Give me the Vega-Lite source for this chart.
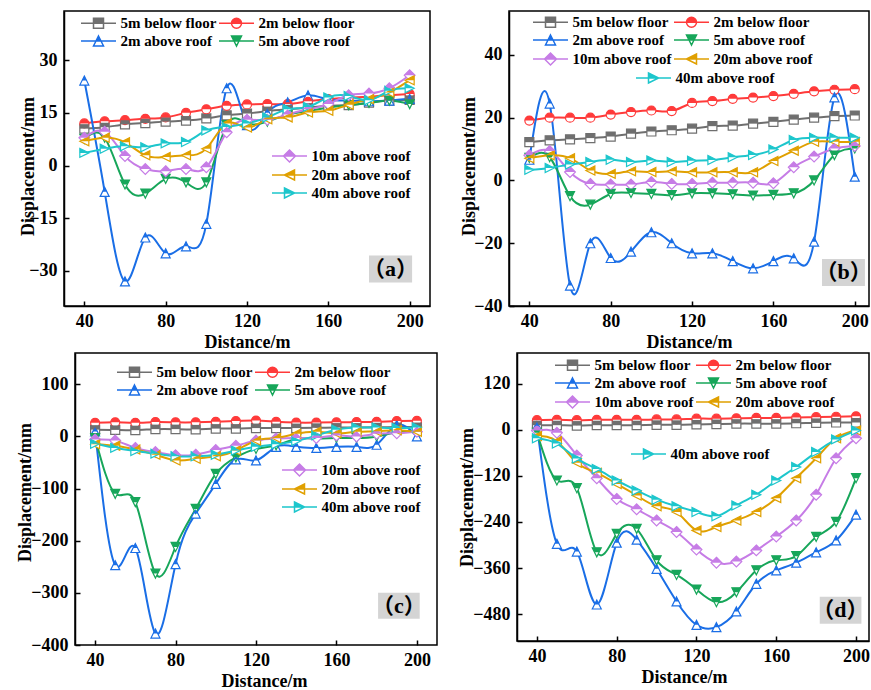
{
"$schema":"https://vega.github.io/schema/vega-lite/v6.json",
"padding":{"left":16,"top":10,"right":0,"bottom":0},
"params":[
{"name":"NM","value":["5m below floor","2m below floor","2m above roof","5m above roof","10m above roof","20m above roof","40m above roof"]},
{"name":"CL","value":["#6f6f6f","#ff3a3a","#1a6ee6","#17a65a","#c67ce6","#e0a000","#1dc6cc"]},
{"name":"LS","value":["M-3.5,0H3.5M-1,-1H1V0H-1ZM-1,0V1H1V0V1H-1V0","M-3.5,0H3.5M-1,0A1,1,0,0,1,1,0ZM-1,0A1,1,0,0,0,1,0A1,1,0,0,1,-1,0","M-3.5,0H3.5M0,-1L0.5,0H-0.5ZM0.5,0L1,1H-1L-0.5,0L-1,1H1L0.5,0","M-3.5,0H3.5M-1,-1H1L0.5,0H-0.5ZM0.5,0L0,1L-0.5,0L0,1L0.5,0","M-3.5,0H3.5M-1.2,0L0,-1.2L1.2,0ZM-1.2,0L0,1.2L1.2,0L0,1.2L-1.2,0","M-3.5,0H3.5M-1,0L1,-1V0ZM-1,0L1,1V0V1L-1,0","M-3.5,0H3.5M1,0L-1,-1V0ZM1,0L-1,1V0V1L1,0"]}
],
"data":{"values":[
{"p":"a","d":40,"5m below floor":10.5,"2m below floor":12.0,"2m above roof":24.2,"5m above roof":7.6,"10m above roof":7.9,"20m above roof":6.9,"40m above roof":3.6},
{"p":"a","d":50,"5m below floor":10.9,"2m below floor":12.6,"2m above roof":-7.5,"5m above roof":7.9,"10m above roof":9.6,"20m above roof":7.9,"40m above roof":4.8},
{"p":"a","d":60,"5m below floor":11.7,"2m below floor":12.9,"2m above roof":-33.0,"5m above roof":-5.4,"10m above roof":2.7,"20m above roof":6.6,"40m above roof":5.5},
{"p":"a","d":70,"5m below floor":12.1,"2m below floor":13.3,"2m above roof":-20.5,"5m above roof":-8.0,"10m above roof":-1.0,"20m above roof":2.9,"40m above roof":5.2},
{"p":"a","d":80,"5m below floor":12.5,"2m below floor":13.7,"2m above roof":-25.0,"5m above roof":-3.8,"10m above roof":-1.6,"20m above roof":2.4,"40m above roof":6.3},
{"p":"a","d":90,"5m below floor":12.8,"2m below floor":15.0,"2m above roof":-23.0,"5m above roof":-4.8,"10m above roof":-1.0,"20m above roof":2.9,"40m above roof":6.7},
{"p":"a","d":100,"5m below floor":13.4,"2m below floor":16.0,"2m above roof":-16.6,"5m above roof":-4.8,"10m above roof":-0.5,"20m above roof":4.8,"40m above roof":10.0},
{"p":"a","d":110,"5m below floor":14.3,"2m below floor":17.0,"2m above roof":22.0,"5m above roof":11.5,"10m above roof":9.5,"20m above roof":12.0,"40m above roof":11.0},
{"p":"a","d":120,"5m below floor":14.8,"2m below floor":17.4,"2m above roof":11.5,"5m above roof":12.0,"10m above roof":13.0,"20m above roof":10.8,"40m above roof":12.0},
{"p":"a","d":130,"5m below floor":15.5,"2m below floor":17.5,"2m above roof":15.0,"5m above roof":12.5,"10m above roof":13.0,"20m above roof":13.2,"40m above roof":13.7},
{"p":"a","d":140,"5m below floor":16.0,"2m below floor":17.5,"2m above roof":18.0,"5m above roof":14.5,"10m above roof":14.5,"20m above roof":13.7,"40m above roof":16.0},
{"p":"a","d":150,"5m below floor":16.5,"2m below floor":18.3,"2m above roof":20.0,"5m above roof":15.5,"10m above roof":16.0,"20m above roof":15.1,"40m above roof":16.7},
{"p":"a","d":160,"5m below floor":17.0,"2m below floor":18.9,"2m above roof":18.8,"5m above roof":16.5,"10m above roof":17.5,"20m above roof":15.6,"40m above roof":19.4},
{"p":"a","d":170,"5m below floor":17.2,"2m below floor":19.3,"2m above roof":18.5,"5m above roof":17.2,"10m above roof":20.0,"20m above roof":17.3,"40m above roof":19.8},
{"p":"a","d":180,"5m below floor":17.9,"2m below floor":19.6,"2m above roof":18.3,"5m above roof":17.8,"10m above roof":20.5,"20m above roof":18.9,"40m above roof":18.6},
{"p":"a","d":190,"5m below floor":18.5,"2m below floor":20.0,"2m above roof":18.5,"5m above roof":18.5,"10m above roof":22.0,"20m above roof":20.8,"40m above roof":21.3},
{"p":"a","d":200,"5m below floor":18.7,"2m below floor":20.4,"2m above roof":19.0,"5m above roof":17.5,"10m above roof":25.7,"20m above roof":24.3,"40m above roof":22.0},
{"p":"b","d":40,"5m below floor":12.2,"2m below floor":19.1,"2m above roof":6.6,"5m above roof":7.2,"10m above roof":8.0,"20m above roof":7.1,"40m above roof":3.4},
{"p":"b","d":50,"5m below floor":12.8,"2m below floor":20.0,"2m above roof":24.5,"5m above roof":7.4,"10m above roof":9.4,"20m above roof":8.0,"40m above roof":4.0},
{"p":"b","d":60,"5m below floor":13.1,"2m below floor":20.0,"2m above roof":-33.5,"5m above roof":-5.0,"10m above roof":2.7,"20m above roof":7.1,"40m above roof":5.1},
{"p":"b","d":70,"5m below floor":13.5,"2m below floor":20.0,"2m above roof":-20.0,"5m above roof":-7.7,"10m above roof":-1.1,"20m above roof":3.2,"40m above roof":5.9},
{"p":"b","d":80,"5m below floor":14.0,"2m below floor":21.0,"2m above roof":-24.7,"5m above roof":-4.3,"10m above roof":-1.3,"20m above roof":2.1,"40m above roof":6.6},
{"p":"b","d":90,"5m below floor":14.9,"2m below floor":21.8,"2m above roof":-22.7,"5m above roof":-4.0,"10m above roof":-1.3,"20m above roof":2.9,"40m above roof":5.9},
{"p":"b","d":100,"5m below floor":15.6,"2m below floor":22.3,"2m above roof":-16.5,"5m above roof":-4.3,"10m above roof":-0.5,"20m above roof":2.7,"40m above roof":6.4},
{"p":"b","d":110,"5m below floor":16.0,"2m below floor":22.1,"2m above roof":-20.0,"5m above roof":-4.7,"10m above roof":-1.1,"20m above roof":2.9,"40m above roof":5.9},
{"p":"b","d":120,"5m below floor":16.5,"2m below floor":24.7,"2m above roof":-23.2,"5m above roof":-4.1,"10m above roof":-1.1,"20m above roof":2.6,"40m above roof":6.3},
{"p":"b","d":130,"5m below floor":17.3,"2m below floor":25.3,"2m above roof":-23.2,"5m above roof":-4.1,"10m above roof":-0.7,"20m above roof":2.6,"40m above roof":6.5},
{"p":"b","d":140,"5m below floor":17.5,"2m below floor":26.0,"2m above roof":-25.7,"5m above roof":-4.4,"10m above roof":-0.7,"20m above roof":2.6,"40m above roof":7.4},
{"p":"b","d":150,"5m below floor":18.1,"2m below floor":26.4,"2m above roof":-28.0,"5m above roof":-4.8,"10m above roof":-0.7,"20m above roof":2.6,"40m above roof":8.1},
{"p":"b","d":160,"5m below floor":18.7,"2m below floor":26.9,"2m above roof":-25.7,"5m above roof":-4.6,"10m above roof":-0.9,"20m above roof":6.2,"40m above roof":9.9},
{"p":"b","d":170,"5m below floor":19.4,"2m below floor":27.6,"2m above roof":-24.8,"5m above roof":-4.1,"10m above roof":4.2,"20m above roof":9.5,"40m above roof":12.9},
{"p":"b","d":180,"5m below floor":20.0,"2m below floor":28.4,"2m above roof":-19.5,"5m above roof":0.0,"10m above roof":7.6,"20m above roof":12.3,"40m above roof":13.6},
{"p":"b","d":190,"5m below floor":20.5,"2m below floor":28.9,"2m above roof":26.5,"5m above roof":8.1,"10m above roof":10.2,"20m above roof":12.3,"40m above roof":13.6},
{"p":"b","d":200,"5m below floor":20.7,"2m below floor":29.1,"2m above roof":1.2,"5m above roof":10.2,"10m above roof":11.0,"20m above roof":12.3,"40m above roof":13.6},
{"p":"c","d":40,"5m below floor":13,"2m below floor":26,"2m above roof":9.6,"5m above roof":-3,"10m above roof":-6,"20m above roof":-15,"40m above roof":-14},
{"p":"c","d":50,"5m below floor":12.5,"2m below floor":27,"2m above roof":-247,"5m above roof":-110,"10m above roof":-8,"20m above roof":-18,"40m above roof":-22},
{"p":"c","d":60,"5m below floor":12,"2m below floor":26,"2m above roof":-214,"5m above roof":-126,"10m above roof":-22,"20m above roof":-25,"40m above roof":-28},
{"p":"c","d":70,"5m below floor":14,"2m below floor":27.5,"2m above roof":-378,"5m above roof":-263,"10m above roof":-30,"20m above roof":-35,"40m above roof":-33},
{"p":"c","d":80,"5m below floor":14,"2m below floor":27,"2m above roof":-245,"5m above roof":-212,"10m above roof":-36,"20m above roof":-46,"40m above roof":-38},
{"p":"c","d":90,"5m below floor":13.5,"2m below floor":27,"2m above roof":-148,"5m above roof":-139,"10m above roof":-35,"20m above roof":-43,"40m above roof":-38},
{"p":"c","d":100,"5m below floor":15,"2m below floor":28,"2m above roof":-91,"5m above roof":-72,"10m above roof":-26,"20m above roof":-38,"40m above roof":-35},
{"p":"c","d":110,"5m below floor":15,"2m below floor":29.5,"2m above roof":-44,"5m above roof":-40,"10m above roof":-18,"20m above roof":-27,"40m above roof":-27},
{"p":"c","d":120,"5m below floor":16,"2m below floor":30.5,"2m above roof":-46,"5m above roof":-24,"10m above roof":-8,"20m above roof":-8,"40m above roof":-20},
{"p":"c","d":130,"5m below floor":16,"2m below floor":28,"2m above roof":-20,"5m above roof":-17,"10m above roof":-4,"20m above roof":-3,"40m above roof":-15},
{"p":"c","d":140,"5m below floor":16,"2m below floor":26.5,"2m above roof":-20,"5m above roof":-5,"10m above roof":-3,"20m above roof":5,"40m above roof":-9},
{"p":"c","d":150,"5m below floor":16.5,"2m below floor":26.5,"2m above roof":-22,"5m above roof":-4,"10m above roof":-3,"20m above roof":9,"40m above roof":2},
{"p":"c","d":160,"5m below floor":17,"2m below floor":27,"2m above roof":-20,"5m above roof":-3,"10m above roof":2,"20m above roof":6,"40m above roof":13},
{"p":"c","d":170,"5m below floor":17,"2m below floor":27.5,"2m above roof":-20,"5m above roof":-3,"10m above roof":0,"20m above roof":9,"40m above roof":17},
{"p":"c","d":180,"5m below floor":17.5,"2m below floor":28,"2m above roof":-16,"5m above roof":0,"10m above roof":5,"20m above roof":10,"40m above roof":17},
{"p":"c","d":190,"5m below floor":18,"2m below floor":29.5,"2m above roof":22,"5m above roof":8,"10m above roof":6,"20m above roof":12,"40m above roof":16},
{"p":"c","d":200,"5m below floor":18,"2m below floor":30,"2m above roof":0,"5m above roof":10,"10m above roof":9,"20m above roof":9,"40m above roof":17},
{"p":"d","d":40,"5m below floor":12,"2m below floor":25,"2m above roof":9.5,"5m above roof":-8,"10m above roof":-2,"20m above roof":-16,"40m above roof":-22},
{"p":"d","d":50,"5m below floor":12,"2m below floor":26,"2m above roof":-297,"5m above roof":-132,"10m above roof":-8,"20m above roof":-30,"40m above roof":-36},
{"p":"d","d":60,"5m below floor":11,"2m below floor":25,"2m above roof":-317,"5m above roof":-152,"10m above roof":-67,"20m above roof":-86,"40m above roof":-75},
{"p":"d","d":70,"5m below floor":12,"2m below floor":26,"2m above roof":-455,"5m above roof":-319,"10m above roof":-126,"20m above roof":-112,"40m above roof":-102},
{"p":"d","d":80,"5m below floor":12,"2m below floor":26,"2m above roof":-294,"5m above roof":-271,"10m above roof":-180,"20m above roof":-141,"40m above roof":-132},
{"p":"d","d":90,"5m below floor":12,"2m below floor":26,"2m above roof":-286,"5m above roof":-258,"10m above roof":-207,"20m above roof":-171,"40m above roof":-158},
{"p":"d","d":100,"5m below floor":13,"2m below floor":27,"2m above roof":-362,"5m above roof":-340,"10m above roof":-236,"20m above roof":-199,"40m above roof":-182},
{"p":"d","d":110,"5m below floor":13,"2m below floor":27,"2m above roof":-447,"5m above roof":-378,"10m above roof":-266,"20m above roof":-214,"40m above roof":-199},
{"p":"d","d":120,"5m below floor":14,"2m below floor":29,"2m above roof":-508,"5m above roof":-416,"10m above roof":-312,"20m above roof":-262,"40m above roof":-214},
{"p":"d","d":130,"5m below floor":15,"2m below floor":29,"2m above roof":-514,"5m above roof":-449,"10m above roof":-346,"20m above roof":-253,"40m above roof":-225},
{"p":"d","d":140,"5m below floor":16,"2m below floor":30,"2m above roof":-473,"5m above roof":-423,"10m above roof":-343,"20m above roof":-236,"40m above roof":-197},
{"p":"d","d":150,"5m below floor":16,"2m below floor":31,"2m above roof":-401,"5m above roof":-366,"10m above roof":-314,"20m above roof":-214,"40m above roof":-169},
{"p":"d","d":160,"5m below floor":16,"2m below floor":31,"2m above roof":-366,"5m above roof":-340,"10m above roof":-278,"20m above roof":-178,"40m above roof":-132},
{"p":"d","d":170,"5m below floor":17,"2m below floor":32,"2m above roof":-346,"5m above roof":-329,"10m above roof":-236,"20m above roof":-126,"40m above roof":-97},
{"p":"d","d":180,"5m below floor":18,"2m below floor":33,"2m above roof":-319,"5m above roof":-279,"10m above roof":-169,"20m above roof":-74,"40m above roof":-58},
{"p":"d","d":190,"5m below floor":19,"2m below floor":34,"2m above roof":-288,"5m above roof":-240,"10m above roof":-74,"20m above roof":-22,"40m above roof":-25},
{"p":"d","d":200,"5m below floor":19,"2m below floor":35,"2m above roof":-221,"5m above roof":-126,"10m above roof":-22,"20m above roof":-2,"40m above roof":-2}
]},
"concat":[
{"hconcat":[
{"width":366,"height":295,
 "layer":[
  {"transform":[{"filter":"datum.p==='a'"},{"fold":["5m below floor","2m below floor","2m above roof","5m above roof","10m above roof","20m above roof","40m above roof"],"as":["s","v"]},{"filter":{"field":"s","oneOf":["5m below floor","2m below floor","2m above roof","5m above roof"]}}],
   "encoding":{"x":{"field":"d","type":"quantitative","scale":{"domain":[30,210],"nice":false,"zero":false},"axis":{"values":[40,80,120,160,200],"title":"Distance/m"}},
    "y":{"field":"v","type":"quantitative","scale":{"domain":[-40,44],"nice":false,"zero":false},"axis":{"values":[-30,-15,0,15,30],"title":"Displacement/mm","titlePadding":-9,"titleY":155}},
    "color":{"field":"s","type":"nominal","scale":{"domain":["5m below floor","2m below floor","2m above roof","5m above roof"],"range":["#6f6f6f","#ff3a3a","#1a6ee6","#17a65a"]},"legend":{"title":null,"legendX":15,"legendY":4.5,"columns":2,"encode":{"symbols":{"update":{"shape":{"signal":"LS[indexof(NM,datum.value)]"},"fill":{"signal":"CL[indexof(NM,datum.value)]"},"stroke":{"signal":"CL[indexof(NM,datum.value)]"},"strokeWidth":{"value":1.5},"opacity":{"value":1},"size":{"value":100}}}}}}},
   "layer":[
    {"mark":{"type":"line","interpolate":"natural","strokeWidth":2}},
    {"mark":{"type":"point","filled":false,"fill":"white","size":81,"strokeWidth":1.2,"opacity":1},"encoding":{"shape":{"field":"s","type":"nominal","scale":{"domain":["5m below floor","2m below floor","2m above roof","5m above roof","10m above roof","20m above roof","40m above roof"],"range":["M-1,-1H1V1H-1Z","M-1,0A1,1,0,1,1,1,0A1,1,0,1,1,-1,0Z","M0,-1L1,1H-1Z","M-1,-1H1L0,1Z","M0,-1.2L1.2,0L0,1.2L-1.2,0Z","M-1,0L1,-1V1Z","M1,0L-1,-1V1Z"]},"legend":null}}},
    {"mark":{"type":"point","filled":true,"size":81,"strokeWidth":0,"opacity":1},"encoding":{"shape":{"field":"s","type":"nominal","scale":{"domain":["5m below floor","2m below floor","2m above roof","5m above roof","10m above roof","20m above roof","40m above roof"],"range":["M-1,-1H1V0H-1Z","M-1,0A1,1,0,0,1,1,0Z","M0,-1L0.5,0H-0.5Z","M-1,-1H1L0.5,0H-0.5Z","M-1.2,0L0,-1.2L1.2,0Z","M-1,0L1,-1V0Z","M1,0L-1,-1V0Z"]},"legend":null}}}
   ],
   "resolve":{"scale":{"shape":"independent"}}},
  {"transform":[{"filter":"datum.p==='a'"},{"fold":["5m below floor","2m below floor","2m above roof","5m above roof","10m above roof","20m above roof","40m above roof"],"as":["s","v"]},{"filter":{"field":"s","oneOf":["10m above roof","20m above roof","40m above roof"]}}],
   "encoding":{"x":{"field":"d","type":"quantitative","scale":{"domain":[30,210],"nice":false,"zero":false},"axis":{"values":[40,80,120,160,200],"title":"Distance/m"}},
    "y":{"field":"v","type":"quantitative","scale":{"domain":[-40,44],"nice":false,"zero":false},"axis":{"values":[-30,-15,0,15,30],"title":"Displacement/mm","titlePadding":-9,"titleY":155}},
    "color":{"field":"s","type":"nominal","scale":{"domain":["10m above roof","20m above roof","40m above roof"],"range":["#c67ce6","#e0a000","#1dc6cc"]},"legend":{"title":null,"legendX":206,"legendY":137.5,"columns":1,"encode":{"symbols":{"update":{"shape":{"signal":"LS[indexof(NM,datum.value)]"},"fill":{"signal":"CL[indexof(NM,datum.value)]"},"stroke":{"signal":"CL[indexof(NM,datum.value)]"},"strokeWidth":{"value":1.5},"opacity":{"value":1},"size":{"value":100}}}}}}},
   "layer":[
    {"mark":{"type":"line","interpolate":"natural","strokeWidth":2}},
    {"mark":{"type":"point","filled":false,"fill":"white","size":81,"strokeWidth":1.2,"opacity":1},"encoding":{"shape":{"field":"s","type":"nominal","scale":{"domain":["5m below floor","2m below floor","2m above roof","5m above roof","10m above roof","20m above roof","40m above roof"],"range":["M-1,-1H1V1H-1Z","M-1,0A1,1,0,1,1,1,0A1,1,0,1,1,-1,0Z","M0,-1L1,1H-1Z","M-1,-1H1L0,1Z","M0,-1.2L1.2,0L0,1.2L-1.2,0Z","M-1,0L1,-1V1Z","M1,0L-1,-1V1Z"]},"legend":null}}},
    {"mark":{"type":"point","filled":true,"size":81,"strokeWidth":0,"opacity":1},"encoding":{"shape":{"field":"s","type":"nominal","scale":{"domain":["5m below floor","2m below floor","2m above roof","5m above roof","10m above roof","20m above roof","40m above roof"],"range":["M-1,-1H1V0H-1Z","M-1,0A1,1,0,0,1,1,0Z","M0,-1L0.5,0H-0.5Z","M-1,-1H1L0.5,0H-0.5Z","M-1.2,0L0,-1.2L1.2,0Z","M-1,0L1,-1V0Z","M1,0L-1,-1V0Z"]},"legend":null}}}
   ],
   "resolve":{"scale":{"shape":"independent"}}},
  {"data":{"values":[{"lab":"（a）"}]},"mark":{"type":"rect","color":"#d4d4d4"},"encoding":{"x":{"datum":180},"x2":{"datum":201.2},"y":{"datum":-25.6},"y2":{"datum":-33.3}}},
  {"data":{"values":[{"lab":"（a）"}]},"mark":{"type":"text","font":"Liberation Serif, Noto Sans CJK SC","fontSize":22,"fontWeight":"bold","color":"black"},"encoding":{"text":{"field":"lab"},"x":{"datum":190.6},"y":{"datum":-29.5}}}
 ],
 "resolve":{"scale":{"color":"independent","shape":"independent"}}},
{"width":360,"height":295,
 "layer":[
  {"transform":[{"filter":"datum.p==='b'"},{"fold":["5m below floor","2m below floor","2m above roof","5m above roof","10m above roof","20m above roof","40m above roof"],"as":["s","v"]},{"filter":{"field":"s","oneOf":["5m below floor","2m below floor","2m above roof","5m above roof","10m above roof","20m above roof"]}}],
   "encoding":{"x":{"field":"d","type":"quantitative","scale":{"domain":[30,207],"nice":false,"zero":false},"axis":{"values":[40,80,120,160,200],"title":"Distance/m"}},
    "y":{"field":"v","type":"quantitative","scale":{"domain":[-40,54],"nice":false,"zero":false},"axis":{"values":[-40,-20,0,20,40],"title":"Displacement/mm","titlePadding":-4.5,"titleY":155}},
    "color":{"field":"s","type":"nominal","scale":{"domain":["5m below floor","2m below floor","2m above roof","5m above roof","10m above roof","20m above roof"],"range":["#6f6f6f","#ff3a3a","#1a6ee6","#17a65a","#c67ce6","#e0a000"]},"legend":{"title":null,"legendX":22,"legendY":3.5,"columns":2,"encode":{"symbols":{"update":{"shape":{"signal":"LS[indexof(NM,datum.value)]"},"fill":{"signal":"CL[indexof(NM,datum.value)]"},"stroke":{"signal":"CL[indexof(NM,datum.value)]"},"strokeWidth":{"value":1.5},"opacity":{"value":1},"size":{"value":100}}}}}}},
   "layer":[
    {"mark":{"type":"line","interpolate":"natural","strokeWidth":2}},
    {"mark":{"type":"point","filled":false,"fill":"white","size":81,"strokeWidth":1.2,"opacity":1},"encoding":{"shape":{"field":"s","type":"nominal","scale":{"domain":["5m below floor","2m below floor","2m above roof","5m above roof","10m above roof","20m above roof","40m above roof"],"range":["M-1,-1H1V1H-1Z","M-1,0A1,1,0,1,1,1,0A1,1,0,1,1,-1,0Z","M0,-1L1,1H-1Z","M-1,-1H1L0,1Z","M0,-1.2L1.2,0L0,1.2L-1.2,0Z","M-1,0L1,-1V1Z","M1,0L-1,-1V1Z"]},"legend":null}}},
    {"mark":{"type":"point","filled":true,"size":81,"strokeWidth":0,"opacity":1},"encoding":{"shape":{"field":"s","type":"nominal","scale":{"domain":["5m below floor","2m below floor","2m above roof","5m above roof","10m above roof","20m above roof","40m above roof"],"range":["M-1,-1H1V0H-1Z","M-1,0A1,1,0,0,1,1,0Z","M0,-1L0.5,0H-0.5Z","M-1,-1H1L0.5,0H-0.5Z","M-1.2,0L0,-1.2L1.2,0Z","M-1,0L1,-1V0Z","M1,0L-1,-1V0Z"]},"legend":null}}}
   ],
   "resolve":{"scale":{"shape":"independent"}}},
  {"transform":[{"filter":"datum.p==='b'"},{"fold":["5m below floor","2m below floor","2m above roof","5m above roof","10m above roof","20m above roof","40m above roof"],"as":["s","v"]},{"filter":{"field":"s","oneOf":["40m above roof"]}}],
   "encoding":{"x":{"field":"d","type":"quantitative","scale":{"domain":[30,207],"nice":false,"zero":false},"axis":{"values":[40,80,120,160,200],"title":"Distance/m"}},
    "y":{"field":"v","type":"quantitative","scale":{"domain":[-40,54],"nice":false,"zero":false},"axis":{"values":[-40,-20,0,20,40],"title":"Displacement/mm","titlePadding":-4.5,"titleY":155}},
    "color":{"field":"s","type":"nominal","scale":{"domain":["40m above roof"],"range":["#1dc6cc"]},"legend":{"title":null,"legendX":125,"legendY":59.5,"columns":1,"encode":{"symbols":{"update":{"shape":{"signal":"LS[indexof(NM,datum.value)]"},"fill":{"signal":"CL[indexof(NM,datum.value)]"},"stroke":{"signal":"CL[indexof(NM,datum.value)]"},"strokeWidth":{"value":1.5},"opacity":{"value":1},"size":{"value":100}}}}}}},
   "layer":[
    {"mark":{"type":"line","interpolate":"natural","strokeWidth":2}},
    {"mark":{"type":"point","filled":false,"fill":"white","size":81,"strokeWidth":1.2,"opacity":1},"encoding":{"shape":{"field":"s","type":"nominal","scale":{"domain":["5m below floor","2m below floor","2m above roof","5m above roof","10m above roof","20m above roof","40m above roof"],"range":["M-1,-1H1V1H-1Z","M-1,0A1,1,0,1,1,1,0A1,1,0,1,1,-1,0Z","M0,-1L1,1H-1Z","M-1,-1H1L0,1Z","M0,-1.2L1.2,0L0,1.2L-1.2,0Z","M-1,0L1,-1V1Z","M1,0L-1,-1V1Z"]},"legend":null}}},
    {"mark":{"type":"point","filled":true,"size":81,"strokeWidth":0,"opacity":1},"encoding":{"shape":{"field":"s","type":"nominal","scale":{"domain":["5m below floor","2m below floor","2m above roof","5m above roof","10m above roof","20m above roof","40m above roof"],"range":["M-1,-1H1V0H-1Z","M-1,0A1,1,0,0,1,1,0Z","M0,-1L0.5,0H-0.5Z","M-1,-1H1L0.5,0H-0.5Z","M-1.2,0L0,-1.2L1.2,0Z","M-1,0L1,-1V0Z","M1,0L-1,-1V0Z"]},"legend":null}}}
   ],
   "resolve":{"scale":{"shape":"independent"}}},
  {"data":{"values":[{"lab":"（b）"}]},"mark":{"type":"rect","color":"#d4d4d4"},"encoding":{"x":{"datum":183.9},"x2":{"datum":205},"y":{"datum":-25},"y2":{"datum":-33.6}}},
  {"data":{"values":[{"lab":"（b）"}]},"mark":{"type":"text","font":"Liberation Serif, Noto Sans CJK SC","fontSize":22,"fontWeight":"bold","color":"black"},"encoding":{"text":{"field":"lab"},"x":{"datum":194.5},"y":{"datum":-29.3}}}
 ],
 "resolve":{"scale":{"color":"independent","shape":"independent"}}}
],"spacing":79,"bounds":"flush"},
{"hconcat":[
 {"width":373,"height":292,
 "view":{"stroke":null},
 "layer":[
  {"transform":[{"filter":"datum.p==='c'"},{"fold":["5m below floor","2m below floor","2m above roof","5m above roof","10m above roof","20m above roof","40m above roof"],"as":["s","v"]},{"filter":{"field":"s","oneOf":["5m below floor","2m below floor","2m above roof","5m above roof"]}}],
   "encoding":{"x":{"field":"d","type":"quantitative","scale":{"domain":[24.53,210],"nice":false,"zero":false},"axis":{"values":[40,80,120,160,200],"title":"Distance/m","domain":false,"titleX":200}},
    "y":{"field":"v","type":"quantitative","scale":{"domain":[-400,160],"nice":false,"zero":false},"axis":{"values":[-400,-300,-200,-100,0,100],"title":"Displacement/mm","titlePadding":-4,"offset":-11,"titleY":139}},
    "color":{"field":"s","type":"nominal","scale":{"domain":["5m below floor","2m below floor","2m above roof","5m above roof"],"range":["#6f6f6f","#ff3a3a","#1a6ee6","#17a65a"]},"legend":{"title":null,"legendX":51,"legendY":11.5,"columns":2,"encode":{"symbols":{"update":{"shape":{"signal":"LS[indexof(NM,datum.value)]"},"fill":{"signal":"CL[indexof(NM,datum.value)]"},"stroke":{"signal":"CL[indexof(NM,datum.value)]"},"strokeWidth":{"value":1.5},"opacity":{"value":1},"size":{"value":100}}}}}}},
   "layer":[
    {"mark":{"type":"line","interpolate":"natural","strokeWidth":2}},
    {"mark":{"type":"point","filled":false,"fill":"white","size":81,"strokeWidth":1.2,"opacity":1},"encoding":{"shape":{"field":"s","type":"nominal","scale":{"domain":["5m below floor","2m below floor","2m above roof","5m above roof","10m above roof","20m above roof","40m above roof"],"range":["M-1,-1H1V1H-1Z","M-1,0A1,1,0,1,1,1,0A1,1,0,1,1,-1,0Z","M0,-1L1,1H-1Z","M-1,-1H1L0,1Z","M0,-1.2L1.2,0L0,1.2L-1.2,0Z","M-1,0L1,-1V1Z","M1,0L-1,-1V1Z"]},"legend":null}}},
    {"mark":{"type":"point","filled":true,"size":81,"strokeWidth":0,"opacity":1},"encoding":{"shape":{"field":"s","type":"nominal","scale":{"domain":["5m below floor","2m below floor","2m above roof","5m above roof","10m above roof","20m above roof","40m above roof"],"range":["M-1,-1H1V0H-1Z","M-1,0A1,1,0,0,1,1,0Z","M0,-1L0.5,0H-0.5Z","M-1,-1H1L0.5,0H-0.5Z","M-1.2,0L0,-1.2L1.2,0Z","M-1,0L1,-1V0Z","M1,0L-1,-1V0Z"]},"legend":null}}}
   ],
   "resolve":{"scale":{"shape":"independent"}}},
  {"transform":[{"filter":"datum.p==='c'"},{"fold":["5m below floor","2m below floor","2m above roof","5m above roof","10m above roof","20m above roof","40m above roof"],"as":["s","v"]},{"filter":{"field":"s","oneOf":["10m above roof","20m above roof","40m above roof"]}}],
   "encoding":{"x":{"field":"d","type":"quantitative","scale":{"domain":[24.53,210],"nice":false,"zero":false},"axis":{"values":[40,80,120,160,200],"title":"Distance/m","domain":false,"titleX":200}},
    "y":{"field":"v","type":"quantitative","scale":{"domain":[-400,160],"nice":false,"zero":false},"axis":{"values":[-400,-300,-200,-100,0,100],"title":"Displacement/mm","titlePadding":-4,"offset":-11,"titleY":139}},
    "color":{"field":"s","type":"nominal","scale":{"domain":["10m above roof","20m above roof","40m above roof"],"range":["#c67ce6","#e0a000","#1dc6cc"]},"legend":{"title":null,"legendX":216,"legendY":109.5,"columns":1,"encode":{"symbols":{"update":{"shape":{"signal":"LS[indexof(NM,datum.value)]"},"fill":{"signal":"CL[indexof(NM,datum.value)]"},"stroke":{"signal":"CL[indexof(NM,datum.value)]"},"strokeWidth":{"value":1.5},"opacity":{"value":1},"size":{"value":100}}}}}}},
   "layer":[
    {"mark":{"type":"line","interpolate":"natural","strokeWidth":2}},
    {"mark":{"type":"point","filled":false,"fill":"white","size":81,"strokeWidth":1.2,"opacity":1},"encoding":{"shape":{"field":"s","type":"nominal","scale":{"domain":["5m below floor","2m below floor","2m above roof","5m above roof","10m above roof","20m above roof","40m above roof"],"range":["M-1,-1H1V1H-1Z","M-1,0A1,1,0,1,1,1,0A1,1,0,1,1,-1,0Z","M0,-1L1,1H-1Z","M-1,-1H1L0,1Z","M0,-1.2L1.2,0L0,1.2L-1.2,0Z","M-1,0L1,-1V1Z","M1,0L-1,-1V1Z"]},"legend":null}}},
    {"mark":{"type":"point","filled":true,"size":81,"strokeWidth":0,"opacity":1},"encoding":{"shape":{"field":"s","type":"nominal","scale":{"domain":["5m below floor","2m below floor","2m above roof","5m above roof","10m above roof","20m above roof","40m above roof"],"range":["M-1,-1H1V0H-1Z","M-1,0A1,1,0,0,1,1,0Z","M0,-1L0.5,0H-0.5Z","M-1,-1H1L0.5,0H-0.5Z","M-1.2,0L0,-1.2L1.2,0Z","M-1,0L1,-1V0Z","M1,0L-1,-1V0Z"]},"legend":null}}}
   ],
   "resolve":{"scale":{"shape":"independent"}}},
  {"data":{"values":[{"lab":"frame"}]},"mark":{"type":"rect","filled":false,"stroke":"black","strokeWidth":1.5},"encoding":{"x":{"datum":30},"x2":{"datum":210},"y":{"datum":160},"y2":{"datum":-400}}},
  {"data":{"values":[{"lab":"（c）"}]},"mark":{"type":"rect","color":"#d4d4d4"},"encoding":{"x":{"datum":180.7},"x2":{"datum":201.4},"y":{"datum":-299.7},"y2":{"datum":-349.6}}},
  {"data":{"values":[{"lab":"（c）"}]},"mark":{"type":"text","font":"Liberation Serif, Noto Sans CJK SC","fontSize":22,"fontWeight":"bold","color":"black"},"encoding":{"text":{"field":"lab"},"x":{"datum":191},"y":{"datum":-324.6}}}
 ],
 "resolve":{"scale":{"color":"independent","shape":"independent"}}},
{"width":352,"height":288,
 "layer":[
  {"transform":[{"filter":"datum.p==='d'"},{"fold":["5m below floor","2m below floor","2m above roof","5m above roof","10m above roof","20m above roof","40m above roof"],"as":["s","v"]},{"filter":{"field":"s","oneOf":["5m below floor","2m below floor","2m above roof","5m above roof","10m above roof","20m above roof"]}}],
   "encoding":{"x":{"field":"d","type":"quantitative","scale":{"domain":[30,206.5],"nice":false,"zero":false},"axis":{"values":[40,80,120,160,200],"title":"Distance/m","titleX":167}},
    "y":{"field":"v","type":"quantitative","scale":{"domain":[-550,200],"nice":false,"zero":false},"axis":{"values":[-480,-360,-240,-120,0,120],"title":"Displacement/mm","titlePadding":-4}},
    "color":{"field":"s","type":"nominal","scale":{"domain":["5m below floor","2m below floor","2m above roof","5m above roof","10m above roof","20m above roof"],"range":["#6f6f6f","#ff3a3a","#1a6ee6","#17a65a","#c67ce6","#e0a000"]},"legend":{"title":null,"legendX":36,"legendY":4.5,"columns":2,"encode":{"symbols":{"update":{"shape":{"signal":"LS[indexof(NM,datum.value)]"},"fill":{"signal":"CL[indexof(NM,datum.value)]"},"stroke":{"signal":"CL[indexof(NM,datum.value)]"},"strokeWidth":{"value":1.5},"opacity":{"value":1},"size":{"value":100}}}}}}},
   "layer":[
    {"mark":{"type":"line","interpolate":"natural","strokeWidth":2}},
    {"mark":{"type":"point","filled":false,"fill":"white","size":81,"strokeWidth":1.2,"opacity":1},"encoding":{"shape":{"field":"s","type":"nominal","scale":{"domain":["5m below floor","2m below floor","2m above roof","5m above roof","10m above roof","20m above roof","40m above roof"],"range":["M-1,-1H1V1H-1Z","M-1,0A1,1,0,1,1,1,0A1,1,0,1,1,-1,0Z","M0,-1L1,1H-1Z","M-1,-1H1L0,1Z","M0,-1.2L1.2,0L0,1.2L-1.2,0Z","M-1,0L1,-1V1Z","M1,0L-1,-1V1Z"]},"legend":null}}},
    {"mark":{"type":"point","filled":true,"size":81,"strokeWidth":0,"opacity":1},"encoding":{"shape":{"field":"s","type":"nominal","scale":{"domain":["5m below floor","2m below floor","2m above roof","5m above roof","10m above roof","20m above roof","40m above roof"],"range":["M-1,-1H1V0H-1Z","M-1,0A1,1,0,0,1,1,0Z","M0,-1L0.5,0H-0.5Z","M-1,-1H1L0.5,0H-0.5Z","M-1.2,0L0,-1.2L1.2,0Z","M-1,0L1,-1V0Z","M1,0L-1,-1V0Z"]},"legend":null}}}
   ],
   "resolve":{"scale":{"shape":"independent"}}},
  {"transform":[{"filter":"datum.p==='d'"},{"fold":["5m below floor","2m below floor","2m above roof","5m above roof","10m above roof","20m above roof","40m above roof"],"as":["s","v"]},{"filter":{"field":"s","oneOf":["40m above roof"]}}],
   "encoding":{"x":{"field":"d","type":"quantitative","scale":{"domain":[30,206.5],"nice":false,"zero":false},"axis":{"values":[40,80,120,160,200],"title":"Distance/m","titleX":167}},
    "y":{"field":"v","type":"quantitative","scale":{"domain":[-550,200],"nice":false,"zero":false},"axis":{"values":[-480,-360,-240,-120,0,120],"title":"Displacement/mm","titlePadding":-4}},
    "color":{"field":"s","type":"nominal","scale":{"domain":["40m above roof"],"range":["#1dc6cc"]},"legend":{"title":null,"legendX":112,"legendY":93.5,"columns":1,"encode":{"symbols":{"update":{"shape":{"signal":"LS[indexof(NM,datum.value)]"},"fill":{"signal":"CL[indexof(NM,datum.value)]"},"stroke":{"signal":"CL[indexof(NM,datum.value)]"},"strokeWidth":{"value":1.5},"opacity":{"value":1},"size":{"value":100}}}}}}},
   "layer":[
    {"mark":{"type":"line","interpolate":"natural","strokeWidth":2}},
    {"mark":{"type":"point","filled":false,"fill":"white","size":81,"strokeWidth":1.2,"opacity":1},"encoding":{"shape":{"field":"s","type":"nominal","scale":{"domain":["5m below floor","2m below floor","2m above roof","5m above roof","10m above roof","20m above roof","40m above roof"],"range":["M-1,-1H1V1H-1Z","M-1,0A1,1,0,1,1,1,0A1,1,0,1,1,-1,0Z","M0,-1L1,1H-1Z","M-1,-1H1L0,1Z","M0,-1.2L1.2,0L0,1.2L-1.2,0Z","M-1,0L1,-1V1Z","M1,0L-1,-1V1Z"]},"legend":null}}},
    {"mark":{"type":"point","filled":true,"size":81,"strokeWidth":0,"opacity":1},"encoding":{"shape":{"field":"s","type":"nominal","scale":{"domain":["5m below floor","2m below floor","2m above roof","5m above roof","10m above roof","20m above roof","40m above roof"],"range":["M-1,-1H1V0H-1Z","M-1,0A1,1,0,0,1,1,0Z","M0,-1L0.5,0H-0.5Z","M-1,-1H1L0.5,0H-0.5Z","M-1.2,0L0,-1.2L1.2,0Z","M-1,0L1,-1V0Z","M1,0L-1,-1V0Z"]},"legend":null}}}
   ],
   "resolve":{"scale":{"shape":"independent"}}},
  {"data":{"values":[{"lab":"（d）"}]},"mark":{"type":"rect","color":"#d4d4d4"},"encoding":{"x":{"datum":181.8},"x2":{"datum":202.7},"y":{"datum":-435},"y2":{"datum":-505}}},
  {"data":{"values":[{"lab":"（d）"}]},"mark":{"type":"text","font":"Liberation Serif, Noto Sans CJK SC","fontSize":22,"fontWeight":"bold","color":"black"},"encoding":{"text":{"field":"lab"},"x":{"datum":192.2},"y":{"datum":-470}}}
 ],
 "resolve":{"scale":{"color":"independent","shape":"independent"}}}
],"spacing":80,"bounds":"flush"}
],
"columns":1,
"spacing":0,
"bounds":"full",
"config":{
 "view":{"stroke":"black","strokeWidth":1.5},
 "axis":{"grid":false,"domainColor":"black","domainWidth":1.5,"tickColor":"black","tickWidth":1.5,"tickSize":-5,"labelFont":"Liberation Serif","labelFontWeight":"bold","labelFontSize":18,"labelColor":"black","titleFont":"Liberation Serif","titleFontWeight":"bold","titleFontSize":18,"titleColor":"black","labelFlush":false},
 "axisX":{"labelPadding":11,"titlePadding":3},
 "axisY":{"labelPadding":12},
 "legend":{"orient":"none","direction":"horizontal","padding":0,"labelFont":"Liberation Serif","labelFontWeight":"bold","labelFontSize":15,"labelColor":"black","symbolSize":100,"symbolStrokeWidth":1.5,"symbolOffset":12,"labelOffset":14.5,"rowPadding":1,"columnPadding":-1,"labelLimit":300}
}
}
